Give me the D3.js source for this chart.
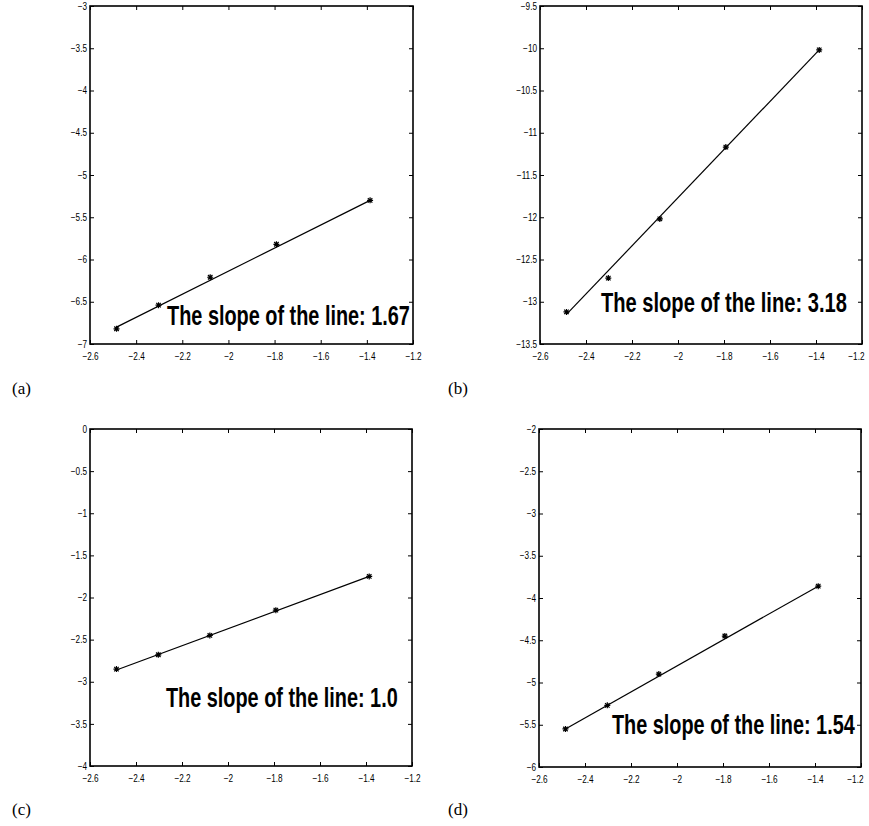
<!DOCTYPE html>
<html>
<head>
<meta charset="utf-8">
<script src="https://cdn.jsdelivr.net/npm/d3@7"></script>
<style>
  body { margin: 0; background: #fff; }
  .tick text { font-family: "Liberation Sans Narrow", "Arial Narrow", "Liberation Sans", sans-serif; font-size: 10px; fill: #000; }
</style>
</head>
<body>
<div id="chart"></div>
<script>
// x values shared by all four panels
var xVals = [-2.485, -2.303, -2.079, -1.792, -1.386];

// measured values for each panel
var yA = [-6.82, -6.54, -6.21, -5.82, -5.30];
var yB = [-13.12, -12.72, -12.02, -11.17, -10.02];
var yC = [-2.85, -2.68, -2.45, -2.15, -1.75];
var yD = [-5.55, -5.27, -4.90, -4.45, -3.86];

// fitted line, y at first and last x
var fitA = [-6.80, -5.30];
var fitB = [-13.15, -10.02];
var fitC = [-2.86, -1.75];
var fitD = [-5.55, -3.86];

var slopes = ["1.67", "3.18", "1.0", "1.54"];
var panelNames = ["(a)", "(b)", "(c)", "(d)"];

// ticks
var xTicks = [-2.6, -2.4, -2.2, -2, -1.8, -1.6, -1.4, -1.2];
var yTicksA = [-7, -6.5, -6, -5.5, -5, -4.5, -4, -3.5, -3];
var yTicksB = [-13.5, -13, -12.5, -12, -11.5, -11, -10.5, -10, -9.5];
var yTicksC = [-4, -3.5, -3, -2.5, -2, -1.5, -1, -0.5, 0];
var yTicksD = [-6, -5.5, -5, -4.5, -4, -3.5, -3, -2.5, -2];

var svg = d3.select("#chart").append("svg")
    .attr("width", 869)
    .attr("height", 826);

// layout of each panel (pixel box, label position, text anchor in data units)
var panels = [
    { ys: yA, fit: fitA, ticks: yTicksA, box: [90, 413, 6, 344],   lab: [12, 394],  txt: [-2.266, -6.775], tlen: 243 },
    { ys: yB, fit: fitB, ticks: yTicksB, box: [540, 862, 6, 344],  lab: [448, 394], txt: [-2.335, -13.12], tlen: 246 },
    { ys: yC, fit: fitC, ticks: yTicksC, box: [90, 412, 429, 766], lab: [12, 815],  txt: [-2.27, -3.30],   tlen: 232 },
    { ys: yD, fit: fitD, ticks: yTicksD, box: [539, 861, 429, 767], lab: [448, 815], txt: [-2.283, -5.61],  tlen: 243 }
];

var fmt = function(d){ return d3.format("")(d); };

function asterisk(r){
    var p = d3.path();
    p.moveTo(0, -r); p.lineTo(0, r);
    p.moveTo(-r, 0); p.lineTo(r, 0);
    var s = r * 0.75;
    p.moveTo(-s, -s); p.lineTo(s, s);
    p.moveTo(-s, s); p.lineTo(s, -s);
    return p.toString();
}

panels.forEach(function(p, i){
    var x = d3.scaleLinear().domain([-2.6, -1.2]).range([p.box[0], p.box[1]]);
    var y = d3.scaleLinear().domain([p.ticks[0], p.ticks[p.ticks.length - 1]]).range([p.box[3], p.box[2]]);

    var g = svg.append("g");

    // axes, ticks pointing inward
    var xb = g.append("g").attr("transform", "translate(0," + p.box[3] + ")")
        .call(d3.axisBottom(x).tickValues(xTicks).tickFormat(fmt).tickSize(-4).tickSizeOuter(0).tickPadding(9));
    g.append("g").attr("transform", "translate(0," + p.box[2] + ")")
        .call(d3.axisTop(x).tickValues(xTicks).tickFormat("").tickSize(-4).tickSizeOuter(0));
    g.append("g").attr("transform", "translate(" + p.box[0] + ",0)")
        .call(d3.axisLeft(y).tickValues(p.ticks).tickFormat(fmt).tickSize(-4).tickSizeOuter(0).tickPadding(3));
    g.append("g").attr("transform", "translate(" + p.box[1] + ",0)")
        .call(d3.axisRight(y).tickValues(p.ticks).tickFormat("").tickSize(-4).tickSizeOuter(0));
    g.selectAll(".domain").remove();
    g.selectAll(".tick line").attr("stroke", "#000").attr("stroke-width", 1);

    // squeeze the tick labels a bit, like the narrow font of the original
    g.selectAll(".tick text").each(function(){
        var w = this.getComputedTextLength();
        if (w > 0) d3.select(this).attr("textLength", w * 0.82).attr("lengthAdjust", "spacingAndGlyphs");
    });

    // the right-hand panels keep their last label inside the page
    if (p.box[1] > 800) {
        xb.selectAll(".tick").filter(function(d){ return d === -1.2; })
            .select("text").attr("text-anchor", "end").attr("x", 2);
    }

    g.append("rect")
        .attr("x", p.box[0]).attr("y", p.box[2])
        .attr("width", p.box[1] - p.box[0])
        .attr("height", p.box[3] - p.box[2])
        .attr("fill", "none")
        .attr("stroke", "#000")
        .attr("stroke-width", 1.6);

    // fitted line
    g.append("line")
        .attr("x1", x(xVals[0])).attr("y1", y(p.fit[0]))
        .attr("x2", x(xVals[xVals.length - 1])).attr("y2", y(p.fit[1]))
        .attr("stroke", "#000").attr("stroke-width", 1.2);

    // asterisk markers
    g.selectAll(".pt").data(p.ys).enter().append("path")
        .attr("class", "pt")
        .attr("transform", function(d, j){ return "translate(" + x(xVals[j]) + "," + y(d) + ")"; })
        .attr("d", asterisk(3))
        .attr("stroke", "#000").attr("stroke-width", 1.2)
        .attr("fill", "none");

    // slope annotation, narrowed with a horizontal scale
    var t = g.append("text")
        .attr("x", 0).attr("y", 0)
        .attr("font-family", "'Liberation Sans Narrow', 'Arial Narrow', 'Liberation Sans', sans-serif")
        .attr("font-weight", "bold")
        .attr("font-size", "28px")
        .text("The slope of the line: " + slopes[i]);
    var tw = t.node().getComputedTextLength();
    t.attr("transform", "translate(" + x(p.txt[0]) + "," + y(p.txt[1]) + ") scale(" + (p.tlen / tw) + ",1)");

    // panel label
    svg.append("text")
        .attr("x", p.lab[0]).attr("y", p.lab[1])
        .attr("font-family", "'Liberation Serif', 'DejaVu Serif', serif")
        .attr("font-size", "17px")
        .text(panelNames[i]);
});
</script>
</body>
</html>
